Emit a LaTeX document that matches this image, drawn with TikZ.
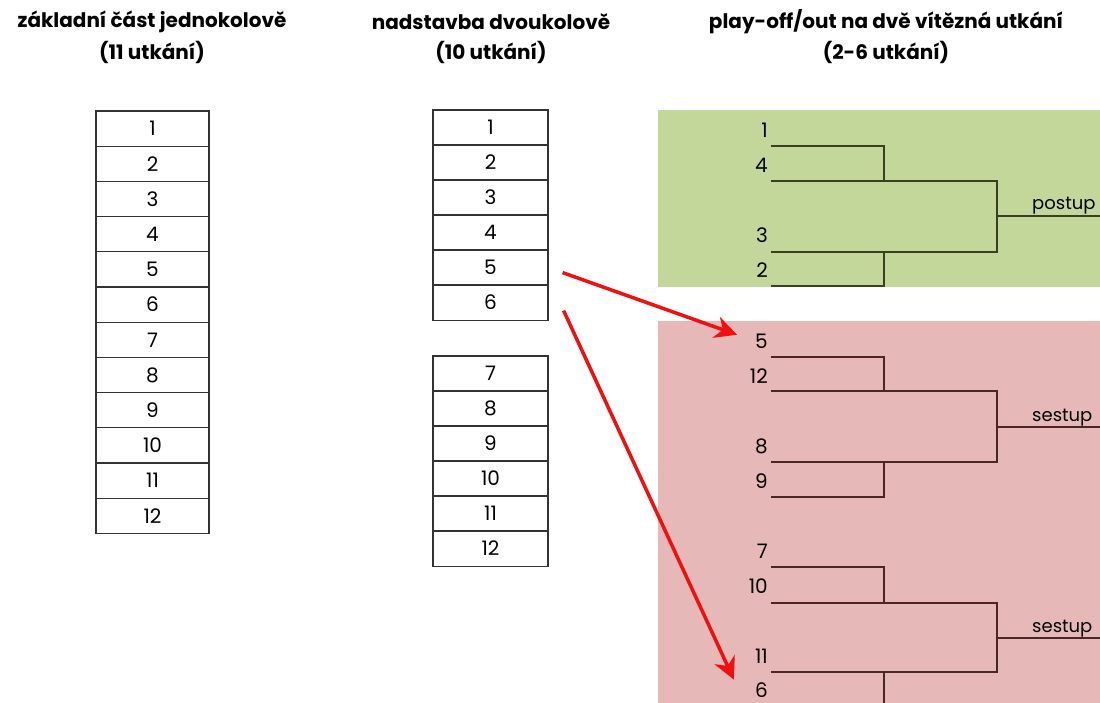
\documentclass[tikz,border=0pt]{standalone}
\usepackage{fontspec}
\setmainfont{Poppins}
\usetikzlibrary{arrows.meta,calc}
\definecolor{postupfill}{HTML}{C4D79B}
\definecolor{sestupfill}{HTML}{E6B8B7}
\definecolor{postupline}{HTML}{3A3F22}
\definecolor{sestupline}{HTML}{4A2626}
\definecolor{arrowred}{HTML}{F01010}
\tikzset{
	cell/.style={draw=black!80, line width=1.2pt, minimum height=35.2pt, inner sep=0pt, font=\fontsize{20}{20}\selectfont},
	head/.style={font=\fontsize{20}{20}\selectfont\bfseries, align=center},
	seed/.style={anchor=base east, inner sep=0pt, font=\fontsize{20}{20}\selectfont},
	result/.style={anchor=base west, inner sep=0pt, font=\fontsize{18}{18}\selectfont},
	redarrow/.style={draw=arrowred, line width=3.5pt, -{Stealth[length=22pt,width=22pt,inset=7pt]}}
}
\begin{document}
\begin{tikzpicture}[x=1pt,y=-1pt]
	\useasboundingbox (0,0) rectangle (1100,703);
	% headings
	\node[head] (h1) at (152,22) {základní část jednokolově};
	\node[head] (h1b) at (152,52) {(11 utkání)};
	\node[head] (h2) at (491,22) {nadstavba dvoukolově};
	\node[head] (h2b) at (491,52) {(10 utkání)};
	\node[head] (h3) at (886,22) {play-off/out na dvě vítězná utkání};
	\node[head] (h3b) at (886,52) {(2-6 utkání)};
	% backgrounds
	\fill[postupfill] (658,110) rectangle (1100,287);
	\fill[sestupfill] (658,321) rectangle (1100,703);
	% basic part
	\foreach \i in {1,...,12}
		\node[cell, minimum width=113pt] (z\i) at (152.5,{128.6+35.2*(\i-1)}) {\i};
	% second part
	\foreach \i in {1,...,6}
		\node[cell, minimum width=115pt] (n\i) at (490.5,{127.6+35*(\i-1)}) {\i};
	\foreach \i in {7,...,12}
		\node[cell, minimum width=115pt] (n\i) at (490.5,{373.6+35*(\i-7)}) {\i};
	% play-off
	\node[seed] (p1) at (768,138) {1};
	\node[seed] (p4) at (768,173) {4};
	\node[seed] (p3) at (768,243) {3};
	\node[seed] (p2) at (768,278) {2};
	\draw[postupline, line width=1.7pt] (771,146) -| (884,181);
	\draw[postupline, line width=1.7pt] (771,181) -| (997,252) -- (771,252);
	\draw[postupline, line width=1.7pt] (771,286) -| (884,252);
	\draw[postupline, line width=1.7pt] (997,216) -- (1100,216);
	\node[result] (postup) at (1032,210) {postup};
	% play-out 1
	\node[seed] (s5) at (768,348) {5};
	\node[seed] (s12) at (768,383) {12};
	\node[seed] (s8) at (768,453) {8};
	\node[seed] (s9) at (768,488) {9};
	\draw[sestupline, line width=1.7pt] (771,357) -| (884,391);
	\draw[sestupline, line width=1.7pt] (771,391) -| (997,462) -- (771,462);
	\draw[sestupline, line width=1.7pt] (771,497) -| (884,462);
	\draw[sestupline, line width=1.7pt] (997,427) -- (1100,427);
	\node[result] (sestup1) at (1032,421) {sestup};
	% play-out 2
	\node[seed] (s7) at (768,558) {7};
	\node[seed] (s10) at (768,593) {10};
	\node[seed] (s11) at (768,663) {11};
	\node[seed] (s6) at (768,697) {6};
	\draw[sestupline, line width=1.7pt] (771,567) -| (884,603);
	\draw[sestupline, line width=1.7pt] (771,603) -| (997,672) -- (771,672);
	\draw[sestupline, line width=1.7pt] (884,672) -- (884,710);
	\draw[sestupline, line width=1.7pt] (997,638) -- (1100,638);
	\node[result] (sestup2) at (1032,632) {sestup};
	% moves
	\draw[redarrow] ($(n5.east)+(14,5)$) -- ($(s5.west)+(-18,-6)$);
	\draw[redarrow] ($(n6.east)+(15,8)$) -- ($(s6.west)+(-21,-10)$);
\end{tikzpicture}
\end{document}
